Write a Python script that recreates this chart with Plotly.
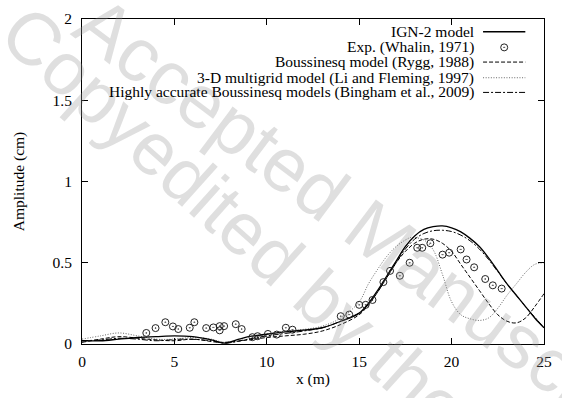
import plotly.graph_objects as go

# ---------------- data ----------------
ign2_x = [0, 1, 2, 3, 4, 5, 6, 7, 7.7, 8.5, 9, 10, 11, 12, 13, 14, 15, 15.5, 16, 16.5, 17, 17.5,
          18, 18.5, 19, 19.5, 20, 20.5, 21, 21.5, 22, 22.5, 23, 23.5, 24, 24.5, 25]
ign2_y = [0.02, 0.02, 0.03, 0.04, 0.045, 0.05, 0.045, 0.025, 0.005, 0.03, 0.045, 0.06, 0.075, 0.085,
          0.1, 0.14, 0.19, 0.25, 0.33, 0.42, 0.51, 0.6, 0.665, 0.705, 0.722, 0.727, 0.715, 0.69, 0.65,
          0.6, 0.53, 0.45, 0.37, 0.3, 0.23, 0.16, 0.1]

exp_x = [3.48, 3.98, 4.51, 4.92, 5.21, 5.83, 6.08, 6.72, 7.11, 7.45, 7.45, 7.69, 8.32, 8.64,
         9.22, 9.50, 10.06, 10.54, 11.03, 11.39, 14.0, 14.46, 15.0, 15.35, 15.72, 16.31, 16.67,
         17.2, 17.73, 18.14, 18.41, 18.85, 19.51, 19.87, 20.49, 20.81, 21.22, 21.82, 22.23, 22.71]
exp_y = [0.068, 0.098, 0.134, 0.108, 0.092, 0.10, 0.134, 0.098, 0.102, 0.11, 0.084, 0.11, 0.122,
         0.092, 0.042, 0.048, 0.062, 0.058, 0.10, 0.088, 0.171, 0.181, 0.241, 0.241, 0.271, 0.381,
         0.45, 0.42, 0.50, 0.592, 0.592, 0.62, 0.55, 0.562, 0.582, 0.52, 0.472, 0.40, 0.361, 0.341]

rygg_x = [0, 1, 2, 3.5, 5, 6, 7.5, 9, 10, 11, 12, 13, 14, 15, 15.5, 16, 16.5, 17, 17.5, 18, 18.5,
          19, 19.5, 20, 20.5, 21, 21.5, 22, 22.5, 23, 23.5, 24, 24.5, 25]
rygg_y = [0.01, 0.03, 0.045, 0.03, 0.02, 0.03, 0.01, 0.025, 0.04, 0.05, 0.06, 0.08, 0.12, 0.18,
          0.24, 0.32, 0.41, 0.5, 0.57, 0.62, 0.645, 0.645, 0.62, 0.57, 0.49, 0.41, 0.33, 0.25, 0.18,
          0.14, 0.13, 0.16, 0.23, 0.31]

li_x = [0, 1, 2, 3, 4, 5, 6, 7, 7.7, 9, 10, 11, 12, 13, 14, 15, 15.5, 16, 16.5, 17, 17.5, 17.8,
        18.5, 19, 19.5, 20, 20.5, 21, 21.5, 22, 22.5, 23, 23.5, 24, 24.5, 25]
li_y = [0.03, 0.05, 0.068, 0.05, 0.03, 0.03, 0.04, 0.03, 0.01, 0.03, 0.06, 0.08, 0.09, 0.11, 0.16,
        0.26, 0.37, 0.46, 0.54, 0.6, 0.64, 0.655, 0.64, 0.58, 0.43, 0.26, 0.18, 0.155, 0.145, 0.16,
        0.22, 0.3, 0.37, 0.44, 0.49, 0.5]

bing_x = [0, 1, 2, 3, 4, 5.5, 7, 7.7, 9, 10, 11, 12, 13, 14, 15, 15.5, 16, 16.5, 17, 17.5, 18,
          18.5, 19, 19.5, 20, 20.5, 21, 21.5, 22, 22.5, 23, 23.5, 24, 24.5, 25]
bing_y = [0.02, 0.025, 0.035, 0.03, 0.02, 0.03, 0.02, 0.005, 0.03, 0.05, 0.065, 0.08, 0.1, 0.14,
          0.19, 0.245, 0.32, 0.41, 0.5, 0.585, 0.645, 0.68, 0.697, 0.7, 0.692, 0.67, 0.635, 0.585,
          0.52, 0.445, 0.37, 0.3, 0.23, 0.165, 0.1]

x_ticks = [0, 5, 10, 15, 20, 25]
y_ticks = [0, 0.5, 1, 1.5, 2]
y_ticktext = ["0", "0.5", "1", "1.5", "2"]

names = ["IGN-2 model", "Exp. (Whalin, 1971)", "Boussinesq model (Rygg, 1988)",
         "3-D multigrid model (Li and Fleming, 1997)",
         "Highly accurate Boussinesq models (Bingham et al., 2009)"]

FONT = "Liberation Serif, Times New Roman, Times, serif"
FS = 15.5

L, R, T, B = 82, 10, 12, 54
W, H = 562, 398
pw, ph = W - L - R, H - T - B


def px(xp):
    return (xp - L) / pw


def py(yp):
    return (H - B - yp) / ph


fig = go.Figure()

# ---------------- watermark ----------------
fig.add_annotation(x=px(374), y=py(224), xref="paper", yref="paper", text="Accepted Manuscript", showarrow=False,
                   xanchor="center", yanchor="middle", textangle=37,
                   font=dict(family="Liberation Sans", size=76, color="rgba(150,150,150,0.30)"))
fig.add_annotation(x=px(326), y=py(298), xref="paper", yref="paper", text="Copyedited by the Author", showarrow=False,
                   xanchor="center", yanchor="middle", textangle=42,
                   font=dict(family="Liberation Sans", size=74, color="rgba(150,150,150,0.30)"))

DOT = dict(color="#666", width=1, dash="1px,1.6px")
fig.add_trace(go.Scatter(x=li_x, y=li_y, mode="lines", line=dict(shape="spline", **DOT), name=names[3]))
fig.add_trace(go.Scatter(x=rygg_x, y=rygg_y, mode="lines", line=dict(color="black", width=1, dash="4px,2px", shape="spline"), name=names[2]))
fig.add_trace(go.Scatter(x=bing_x, y=bing_y, mode="lines", line=dict(color="black", width=1, dash="6px,2px,2px,2px", shape="spline"), name=names[4]))
fig.add_trace(go.Scatter(x=ign2_x, y=ign2_y, mode="lines", line=dict(color="black", width=1.3, shape="spline"), name=names[0]))
fig.add_trace(go.Scatter(x=exp_x, y=exp_y, mode="markers",
                         marker=dict(symbol="circle-open-dot", size=7, color="#222", line=dict(width=1, color="#222")),
                         name=names[1]))

# ---------------- manual legend (gnuplot style: text right-aligned, key sample on the right) -------------
rows = [25, 41, 56, 72, 87]
styles = [dict(color="black", width=1.3), None, dict(color="black", width=1, dash="4px,2px"),
          DOT, dict(color="black", width=1, dash="6px,2px,2px,2px")]
for i, (nm, ry) in enumerate(zip(names, rows)):
    fig.add_annotation(x=px(483), y=py(ry), xref="paper", yref="paper", text=nm, showarrow=False,
                       xanchor="right", yanchor="middle", font=dict(family=FONT, size=FS, color="black"))
    if styles[i] is not None:
        fig.add_shape(type="line", xref="paper", yref="paper", x0=px(490), x1=px(533), y0=py(ry), y1=py(ry),
                      line=styles[i])
fig.add_trace(go.Scatter(x=[0.5 * (px(490) + px(533))], y=[py(rows[1])], xaxis="x2", yaxis="y2", mode="markers",
                         marker=dict(symbol="circle-open-dot", size=7, color="#222", line=dict(width=1, color="#222")),
                         showlegend=False, hoverinfo="skip"))

axis_common = dict(showline=True, linecolor="black", linewidth=1, mirror="ticks", ticks="inside", ticklen=6,
                   tickcolor="black", showgrid=False, zeroline=False,
                   tickfont=dict(family=FONT, size=FS, color="black"))

fig.update_layout(
    width=W, height=H, margin=dict(l=L, r=R, t=T, b=B),
    paper_bgcolor="white", plot_bgcolor="white", showlegend=False,
    xaxis=dict(range=[0, 25], tickvals=x_ticks, title=dict(text="x (m)", font=dict(family=FONT, size=FS, color="black"), standoff=4),
               ticklabelstandoff=3, **axis_common),
    yaxis=dict(range=[0, 2], tickvals=y_ticks, ticktext=y_ticktext,
               title=dict(text="Amplitude (cm)", font=dict(family=FONT, size=FS, color="black"), standoff=24),
               ticklabelstandoff=6, **axis_common),
    xaxis2=dict(range=[0, 1], domain=[0, 1], visible=False, overlaying="x"),
    yaxis2=dict(range=[0, 1], domain=[0, 1], visible=False, overlaying="y", anchor="x2"),
)

fig.write_html("out.html")
